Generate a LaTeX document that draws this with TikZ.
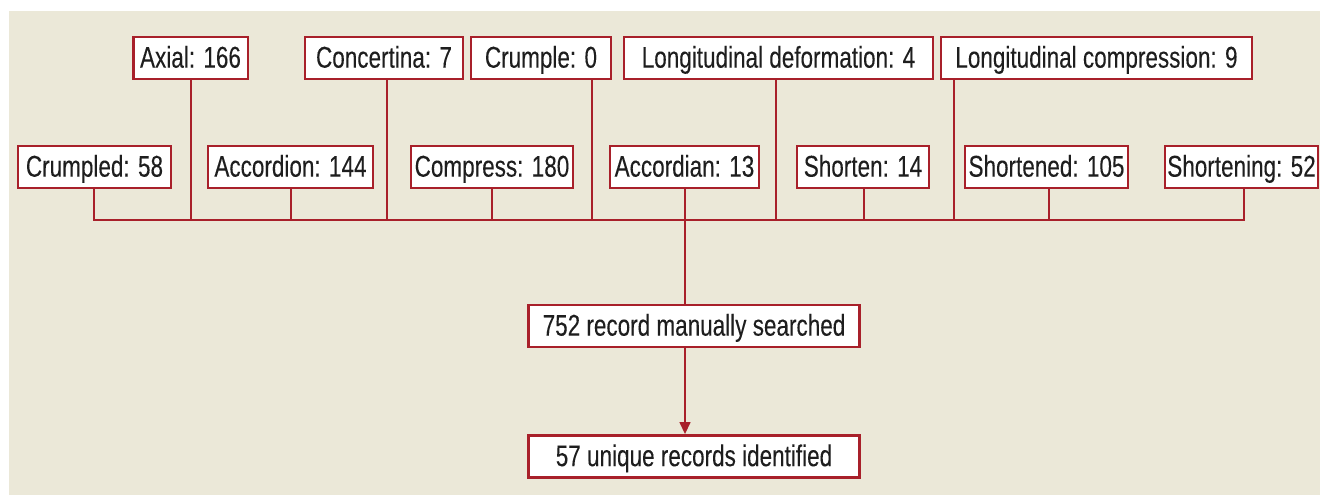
\documentclass[tikz,border=0pt]{standalone}
\usepackage{fontspec}
\setmainfont{Liberation Sans}[FakeStretch=0.75,FakeBold=0.15]
\usetikzlibrary{arrows.meta,calc}
\definecolor{bg}{HTML}{EBE8D8}
\definecolor{rd}{HTML}{A8202A}
\definecolor{tx}{HTML}{1E1E1E}
\begin{document}
\begin{tikzpicture}[x=0.75pt,y=-0.75pt,
  bx/.style={draw=rd,line width=2pt,fill=white,text=tx,inner sep=0pt,
    text height=17.5pt,text depth=3pt,
    minimum height=31.5pt,font=\fontsize{22.5}{24}\selectfont},
  ln/.style={draw=rd,line width=1.6pt},
  ar/.style={ln,-{Triangle[length=9pt,width=8pt]}}]
\useasboundingbox (0,0) rectangle (1320,495);
\fill[bg] (9,11) rectangle (1320,495);
% top row
\node[bx,minimum width=86pt] (axial) at (190.5,58) {Axial: 166};
\node[bx,minimum width=118.5pt] (conc) at (384,58) {Concertina: 7};
\node[bx,minimum width=105pt] (crump) at (541,58) {Crumple: 0};
\node[bx,minimum width=231.75pt] (ldef) at (778.5,58) {Longitudinal deformation: 4};
\node[bx,minimum width=233.25pt] (lcomp) at (1096.5,58) {Longitudinal compression: 9};
% second row
\node[bx,minimum width=114.75pt] (crumpled) at (94.5,167) {Crumpled: 58};
\node[bx,minimum width=123.75pt] (accord) at (290.5,167) {Accordion: 144};
\node[bx,minimum width=121.5pt] (compr) at (492,167) {Compress: 180};
\node[bx,minimum width=111.75pt] (accian) at (684.5,167) {Accordian: 13};
\node[bx,minimum width=99pt] (shorten) at (863,167) {Shorten: 14};
\node[bx,minimum width=122.25pt] (shortened) at (1046.5,167) {Shortened: 105};
\node[bx,minimum width=114.75pt] (shortening) at (1241.5,167) {Shortening: 52};
% bottom
\node[bx,minimum width=248.25pt] (man) at (694,326) {752 record manually searched};
\node[bx,minimum width=248.25pt] (uniq) at (694,456.5) {57 unique records identified};
% bus
\coordinate (bl) at (94,220);
\coordinate (br) at (1244,220);
\coordinate (bm) at (685,220);
\draw[ln] (crumpled.south -| bl) -- (bl) -- (br) -- (shortening.south -| br);
\draw[ln] (axial.south -| 191,0) -- (191,220);
\draw[ln] (accord.south -| 291,0) -- (291,220);
\draw[ln] (conc.south -| 387,0) -- (387,220);
\draw[ln] (compr.south -| 492,0) -- (492,220);
\draw[ln] (crump.south -| 592,0) -- (592,220);
\draw[ln] (accian.south -| bm) -- (bm);
\draw[ln] (ldef.south -| 776,0) -- (776,220);
\draw[ln] (shorten.south -| 864,0) -- (864,220);
\draw[ln] (lcomp.south -| 954,0) -- (954,220);
\draw[ln] (shortened.south -| 1049,0) -- (1049,220);
\draw[ln] (bm) -- (man.north -| bm);
\draw[ar] (man.south -| bm) -- (uniq.north -| bm);
\end{tikzpicture}
\end{document}
